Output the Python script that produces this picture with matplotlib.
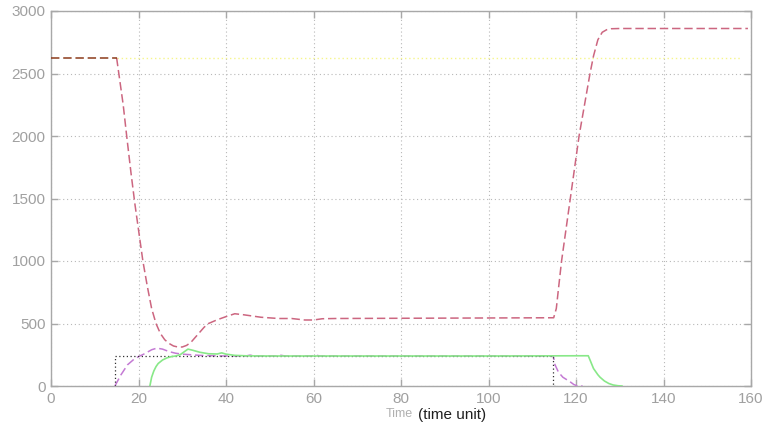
import matplotlib
matplotlib.use("Agg")
import matplotlib.pyplot as plt

# ---- data ----
t_init = [0, 15]
v_init = [2625, 2625]

t_ref = [15, 157.5]
v_ref = [2625, 2625]

t_main = [15, 15.5, 16.5, 17.3, 18.3, 19.2, 20.2, 21, 22, 23, 24, 25, 26, 27, 28, 29, 30,
          31, 32, 33, 34, 35, 36, 37, 38, 40, 42, 44, 46, 48, 50, 52, 55, 58, 60, 62, 65,
          114.9, 115.5, 116, 116.7, 117.7, 118.7, 119.7, 120.7, 122, 123.2, 124, 125, 126,
          127, 128, 130, 159.3]
v_main = [2625, 2500, 2250, 2000, 1700, 1450, 1200, 1000, 800, 620, 500, 420, 370, 340, 320,
          312, 312, 325, 350, 390, 430, 470, 500, 515, 530, 555, 578, 570, 560, 550, 545, 540,
          540, 528, 528, 538, 540,
          546, 620, 780, 1000, 1250, 1500, 1750, 2000, 2260, 2500, 2640, 2770, 2830,
          2850, 2858, 2860, 2860]

t_step = [14.6, 14.6, 114.8, 114.8, 115.5]
v_step = [0, 242, 242, 0, 0]

t_purple = [14.6, 16, 17.5, 19, 20, 21.5, 23, 24.2, 25.5, 27, 28.5, 30, 32, 34, 36, 38, 40,
            44.5, 45.5, 46.5, 51.5, 52.5, 53.5, 59.5, 60.5, 61.5, 70, 100, 114.8, 115.2,
            116, 117, 118.6, 119.5, 120.2, 121.5]
v_purple = [0, 90, 170, 215, 235, 260, 290, 303, 295, 275, 262, 255, 250, 245, 243, 241, 240,
            240, 247, 240, 240, 246, 240, 240, 247, 240, 240, 240, 240, 170,
            110, 70, 35, 12, 2, 0]

t_green = [22.6, 23, 23.5, 24, 24.5, 25.5, 26.5, 27.5, 28.5, 29.5, 30.5, 31.3, 32.5, 34, 36,
           38, 39, 40, 42, 45, 50, 60, 100, 122.8, 123.3, 124, 125, 125.5, 126.5, 127.5,
           128.5, 129.6, 130.5]
v_green = [0, 70, 120, 155, 180, 208, 225, 235, 240, 250, 275, 295, 285, 270, 258, 256, 265,
           255, 245, 241, 240, 240, 240, 242, 200, 140, 90, 70, 40, 20, 8, 2, 0]

x_ticks = [0, 20, 40, 60, 80, 100, 120, 140, 160]
y_ticks = [0, 500, 1000, 1500, 2000, 2500, 3000]

plt.rcParams['font.family'] = ['Liberation Sans', 'DejaVu Sans']

fig = plt.figure(figsize=(7.64, 4.25), dpi=100)
ax = fig.add_axes([51 / 764, 39 / 425, 700 / 764, 375 / 425])

dash = (0, (5.5, 2.5))
ax.plot(t_ref, v_ref, color='#f6f68a', lw=1.0, linestyle=(0, (1, 2)), zorder=2)
ax.plot(t_purple, v_purple, color='#c47ad4', lw=1.1, linestyle=dash, zorder=3)
ax.plot(t_step, v_step, color='#303030', lw=0.9, linestyle=(0, (1, 2)), zorder=3.5)
ax.plot(t_green, v_green, color='#88e888', lw=1.2, zorder=4)
ax.plot(t_main, v_main, color='#cc6680', lw=1.1, linestyle=dash, zorder=5)
ax.plot(t_init, v_init, color='#8b3a1a', lw=1.1, linestyle=dash, zorder=5)

ax.set_xlim(0, 160)
ax.set_ylim(0, 3000)
ax.set_xticks(x_ticks)
ax.set_yticks(y_ticks)
ax.grid(True, color='#b8b8b8', linestyle=(0, (1, 2.5)), linewidth=0.8)
for s in ax.spines.values():
    s.set_color('#a8a8a8')
    s.set_linewidth(1.0)
ax.tick_params(direction='in', length=5, width=1, color='#a8a8a8', labelcolor='#a0a0a0',
               labelsize=11, top=True, right=True, pad=4)

fig.text(399 / 764, 1 - 414 / 425, 'Time', color='#b0b0b0', fontsize=9, ha='center', va='center')
fig.text(452 / 764, 1 - 415 / 425, '(time unit)', color='#202020', fontsize=11, ha='center', va='center')

fig.savefig('out.png', dpi=100)
